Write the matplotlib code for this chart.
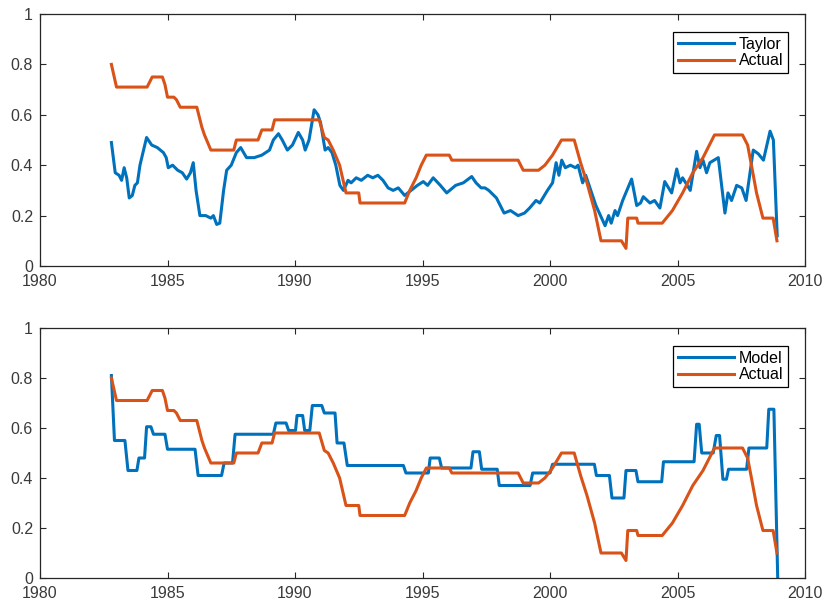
import matplotlib
matplotlib.use('Agg')
import matplotlib.pyplot as plt

# ------------------- Data ------------------- #
# Actual rate (same series in both panels)
act_year = [1982.80, 1983.00, 1984.20, 1984.40, 1984.80, 1984.90, 1985.00, 1985.25,
            1985.35, 1985.50, 1986.15, 1986.35, 1986.45, 1986.70, 1987.60, 1987.70,
            1988.55, 1988.70, 1989.10, 1989.20, 1990.95, 1991.15, 1991.30, 1991.50,
            1991.75, 1992.00, 1992.50, 1992.55, 1994.30, 1994.50, 1994.75, 1994.95,
            1995.15, 1996.05, 1996.15, 1998.75, 1998.95, 1999.55, 1999.80, 2000.10,
            2000.45, 2000.95, 2001.20, 2001.45, 2001.75, 2002.00, 2002.80, 2002.98,
            2003.05, 2003.40, 2003.45, 2004.40, 2004.80, 2005.20, 2005.60, 2006.00,
            2006.45, 2007.55, 2007.75, 2007.90, 2008.10, 2008.35, 2008.75, 2008.90]
act_rate = [0.80, 0.71, 0.71, 0.75, 0.75, 0.72, 0.67, 0.67,
            0.66, 0.63, 0.63, 0.55, 0.52, 0.46, 0.46, 0.50,
            0.50, 0.54, 0.54, 0.58, 0.58, 0.51, 0.50, 0.46,
            0.40, 0.29, 0.29, 0.25, 0.25, 0.30, 0.35, 0.40,
            0.44, 0.44, 0.42, 0.42, 0.38, 0.38, 0.40, 0.44,
            0.50, 0.50, 0.41, 0.33, 0.22, 0.10, 0.10, 0.07,
            0.19, 0.19, 0.17, 0.17, 0.22, 0.29, 0.37, 0.43,
            0.52, 0.52, 0.48, 0.40, 0.29, 0.19, 0.19, 0.10]

# Taylor rule rate (top panel)
tay_year = [1982.80, 1982.95, 1983.10, 1983.20, 1983.30, 1983.40, 1983.50, 1983.62,
            1983.72, 1983.82, 1983.92, 1984.18, 1984.38, 1984.60, 1984.84, 1984.95,
            1985.03, 1985.20, 1985.40, 1985.58, 1985.75, 1985.90, 1986.01, 1986.12,
            1986.27, 1986.50, 1986.70, 1986.80, 1986.93, 1987.05, 1987.20, 1987.32,
            1987.50, 1987.70, 1987.87, 1988.10, 1988.40, 1988.70, 1989.00, 1989.15,
            1989.35, 1989.50, 1989.70, 1989.90, 1990.13, 1990.30, 1990.40, 1990.55,
            1990.75, 1990.90, 1991.00, 1991.18, 1991.30, 1991.45, 1991.60, 1991.76,
            1991.90, 1992.08, 1992.20, 1992.40, 1992.60, 1992.85, 1993.05, 1993.25,
            1993.45, 1993.65, 1993.85, 1994.05, 1994.30, 1994.55, 1994.80, 1995.03,
            1995.20, 1995.42, 1995.70, 1995.95, 1996.30, 1996.60, 1996.93, 1997.10,
            1997.30, 1997.45, 1997.60, 1997.90, 1998.20, 1998.45, 1998.75, 1999.00,
            1999.20, 1999.45, 1999.60, 1999.90, 2000.10, 2000.24, 2000.35, 2000.46,
            2000.60, 2000.80, 2001.00, 2001.10, 2001.28, 2001.40, 2001.60, 2001.80,
            2002.16, 2002.30, 2002.40, 2002.55, 2002.65, 2002.85, 2003.20, 2003.40,
            2003.55, 2003.66, 2003.92, 2004.10, 2004.31, 2004.50, 2004.77, 2004.97,
            2005.10, 2005.20, 2005.50, 2005.75, 2005.88, 2006.00, 2006.14, 2006.27,
            2006.60, 2006.86, 2006.98, 2007.12, 2007.32, 2007.52, 2007.69, 2007.97,
            2008.17, 2008.37, 2008.63, 2008.76, 2008.91]
tay_rate = [0.49, 0.37, 0.36, 0.34, 0.39, 0.35, 0.27, 0.28,
            0.32, 0.33, 0.40, 0.51, 0.48, 0.47, 0.45, 0.43,
            0.39, 0.40, 0.38, 0.37, 0.345, 0.37, 0.41, 0.30,
            0.20, 0.20, 0.19, 0.20, 0.165, 0.17, 0.30, 0.38,
            0.40, 0.45, 0.47, 0.43, 0.43, 0.44, 0.46, 0.50,
            0.525, 0.50, 0.46, 0.48, 0.53, 0.50, 0.46, 0.50,
            0.62, 0.60, 0.57, 0.46, 0.47, 0.45, 0.40, 0.32,
            0.30, 0.34, 0.33, 0.35, 0.34, 0.36, 0.35, 0.36,
            0.34, 0.31, 0.30, 0.31, 0.28, 0.30, 0.32, 0.335,
            0.32, 0.35, 0.32, 0.29, 0.32, 0.33, 0.355, 0.33,
            0.31, 0.31, 0.30, 0.27, 0.21, 0.22, 0.20, 0.21,
            0.23, 0.26, 0.25, 0.30, 0.33, 0.41, 0.36, 0.42,
            0.39, 0.40, 0.39, 0.40, 0.33, 0.36, 0.30, 0.24,
            0.16, 0.20, 0.17, 0.22, 0.20, 0.26, 0.345, 0.24,
            0.25, 0.275, 0.25, 0.26, 0.23, 0.335, 0.29, 0.385,
            0.33, 0.35, 0.30, 0.455, 0.39, 0.42, 0.37, 0.41,
            0.43, 0.21, 0.29, 0.26, 0.32, 0.31, 0.26, 0.46,
            0.445, 0.42, 0.535, 0.50, 0.12]

# Model rate (bottom panel), step-like
mod_year = [1982.80, 1982.92, 1983.33, 1983.45, 1983.80, 1983.88, 1984.10, 1984.18,
            1984.35, 1984.45, 1984.90, 1985.00, 1986.08, 1986.20, 1987.12, 1987.22,
            1987.55, 1987.65, 1989.15, 1989.25, 1989.65, 1989.75, 1990.02, 1990.08,
            1990.30, 1990.38, 1990.58, 1990.68, 1991.05, 1991.15, 1991.57, 1991.65,
            1991.92, 1992.05, 1994.25, 1994.35, 1995.23, 1995.30, 1995.66, 1995.75,
            1996.90, 1996.98, 1997.23, 1997.32, 1997.93, 1998.01, 1999.22, 1999.32,
            2000.00, 2000.10, 2001.74, 2001.82, 2002.33, 2002.43, 2002.90, 2002.98,
            2003.37, 2003.45, 2004.38, 2004.45, 2005.65, 2005.75, 2005.85, 2005.95,
            2006.40, 2006.52, 2006.65, 2006.78, 2006.92, 2007.00, 2007.71, 2007.80,
            2008.50, 2008.58, 2008.78, 2008.93]
mod_rate = [0.81, 0.55, 0.55, 0.43, 0.43, 0.48, 0.48, 0.605,
            0.605, 0.575, 0.575, 0.515, 0.515, 0.41, 0.41, 0.46,
            0.46, 0.575, 0.575, 0.62, 0.62, 0.59, 0.59, 0.65,
            0.65, 0.59, 0.59, 0.69, 0.69, 0.66, 0.66, 0.54,
            0.54, 0.45, 0.45, 0.42, 0.42, 0.48, 0.48, 0.44,
            0.44, 0.505, 0.505, 0.435, 0.435, 0.37, 0.37, 0.42,
            0.42, 0.455, 0.455, 0.41, 0.41, 0.32, 0.32, 0.43,
            0.43, 0.385, 0.385, 0.465, 0.465, 0.615, 0.615, 0.50,
            0.50, 0.57, 0.57, 0.395, 0.395, 0.435, 0.435, 0.52,
            0.52, 0.675, 0.675, 0.00]

x_ticks = [1980, 1985, 1990, 1995, 2000, 2005, 2010]
y_ticks = [0, 0.2, 0.4, 0.6, 0.8, 1]
y_labels = ['0', '0.2', '0.4', '0.6', '0.8', '1']

# ------------------- Plot ------------------- #
plt.rcParams['font.family'] = ['Liberation Sans', 'DejaVu Sans']
blue = '#0072BD'
orange = '#D95319'

fig = plt.figure(figsize=(8.26, 6.05), dpi=100)
W, H = 826, 605
ax_top = fig.add_axes([40 / W, 1 - 266 / H, 765 / W, 252 / H])
ax_bot = fig.add_axes([40 / W, 1 - 578 / H, 765 / W, 250 / H])

panels = [(ax_top, tay_year, tay_rate, 'Taylor'),
          (ax_bot, mod_year, mod_rate, 'Model')]

for ax, xs, ys, name in panels:
    ax.plot(xs, ys, color=blue, linewidth=2.2, label=name)
    ax.plot(act_year, act_rate, color=orange, linewidth=2.2, label='Actual')

    ax.set_xlim(1980, 2010)
    ax.set_ylim(0, 1)
    ax.set_xticks(x_ticks)
    ax.set_yticks(y_ticks)
    ax.set_yticklabels(y_labels)
    ax.tick_params(direction='in', length=4.5, width=0.8, top=True, right=True,
                   labelsize=11.5, colors='#262626', labelcolor='#3a3a3a')
    ax.tick_params(axis='x', pad=6)
    ax.tick_params(axis='y', pad=5)
    for sp in ax.spines.values():
        sp.set_color('#262626')
        sp.set_linewidth(0.9)

    leg = ax.legend(loc='upper right', bbox_to_anchor=(0.978, 0.929),
                    borderaxespad=0, fontsize=11.5, handlelength=3.5,
                    handletextpad=0.3, labelspacing=0.1, borderpad=0.3,
                    fancybox=False, framealpha=1, edgecolor='black')
    leg.get_frame().set_linewidth(0.9)

fig.savefig('out.png', dpi=100)
